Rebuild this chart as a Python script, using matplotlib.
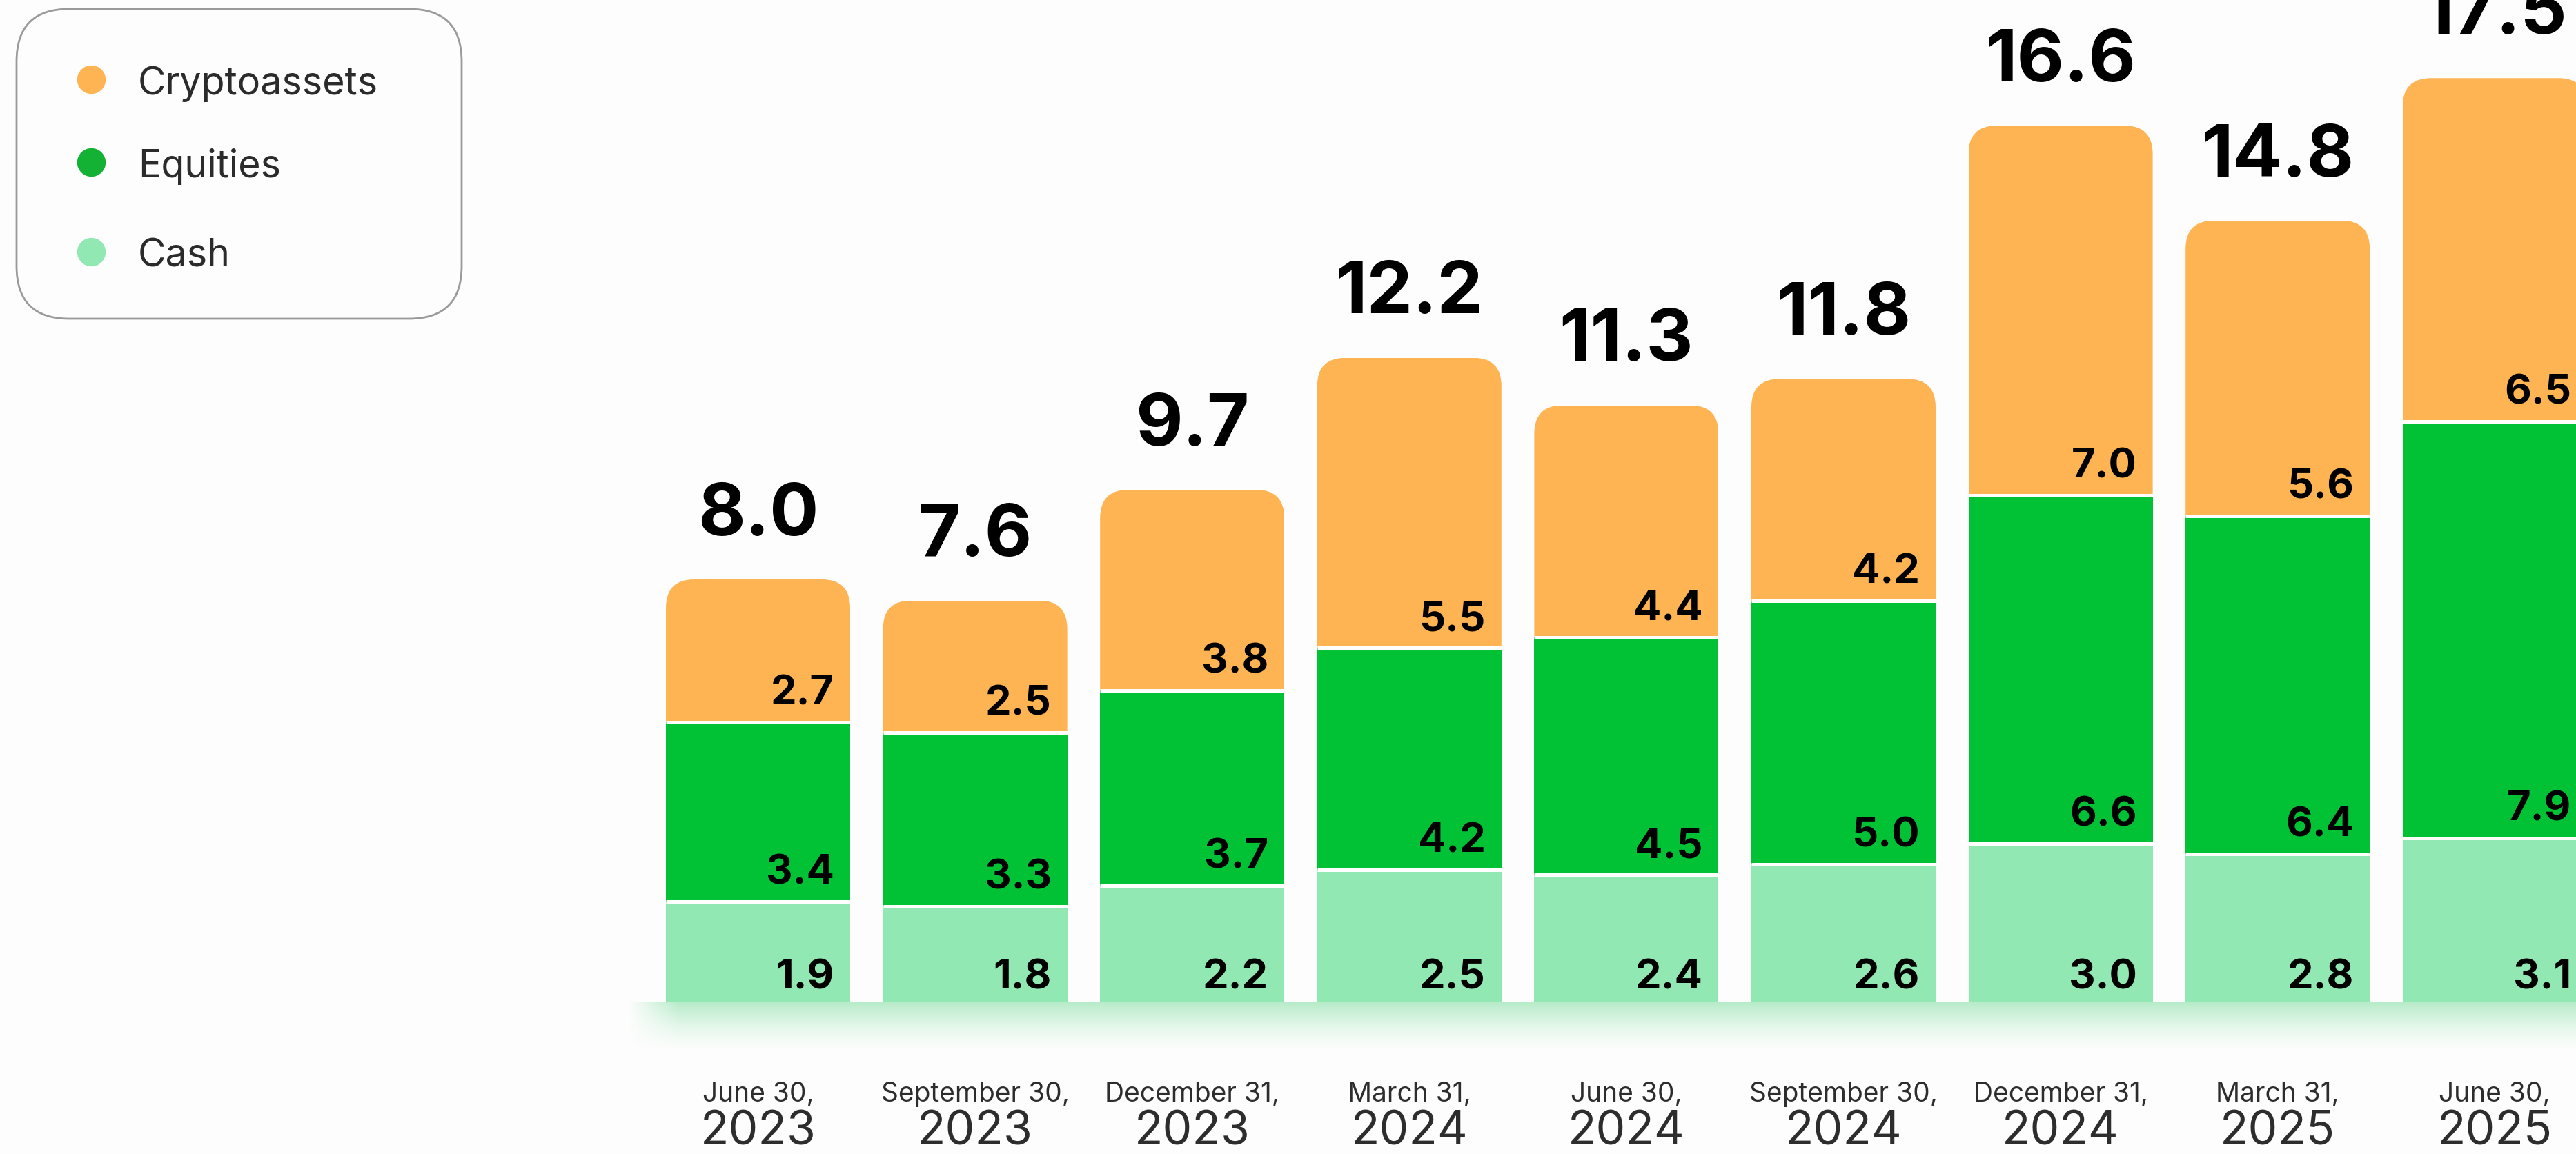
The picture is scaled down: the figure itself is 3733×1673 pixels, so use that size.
import numpy as np
import matplotlib.pyplot as plt
from matplotlib.patches import FancyBboxPatch
from matplotlib.lines import Line2D

plt.rcParams['font.family'] = ['Inter', 'DejaVu Sans']

# data (billions)
months = ['June 30,', 'September 30,', 'December 31,', 'March 31,', 'June 30,',
          'September 30,', 'December 31,', 'March 31,', 'June 30,']
years = ['2023', '2023', '2023', '2024', '2024', '2024', '2024', '2025', '2025']
cash = [1.9, 1.8, 2.2, 2.5, 2.4, 2.6, 3.0, 2.8, 3.1]
equities = [3.4, 3.3, 3.7, 4.2, 4.5, 5.0, 6.6, 6.4, 7.9]
crypto = [2.7, 2.5, 3.8, 5.5, 4.4, 4.2, 7.0, 5.6, 6.5]
totals = [8.0, 7.6, 9.7, 12.2, 11.3, 11.8, 16.6, 14.8, 17.5]

series = ['Cryptoassets', 'Equities', 'Cash']
colors = {'Cryptoassets': '#FFB453', 'Equities': '#00C234', 'Cash': '#92E8B2'}
legend_colors = {'Cryptoassets': '#FFB453', 'Equities': '#14B234', 'Cash': '#92E8B2'}
bg = '#FCFDFC'

# layout in pixels
W, H = 3733, 1674
pitch = 314.6      # px between bar centres
x_first = 1098.5   # px of first bar centre
base = 1453        # px from top of the baseline
ppu = 76.5         # px per unit
bar_px = 267
r_px = 41

fig = plt.figure(figsize=(W / 100, H / 100), dpi=100)
fig.patch.set_facecolor(bg)
ax = fig.add_axes([0, 0, 1, 1])
ax.set_facecolor(bg)
ax.axis('off')

xlim = (-x_first / pitch, (W - x_first) / pitch)
ylim = (-(H - base) / ppu, base / ppu)

x = np.arange(len(months))
w = bar_px / pitch
cash_a = np.array(cash)
eq_a = np.array(equities)
cr_a = np.array(crypto)

ax.bar(x, cash_a, w, color=colors['Cash'], zorder=2)
ax.bar(x, eq_a, w, bottom=cash_a, color=colors['Equities'], zorder=2)
top_bars = ax.bar(x, cr_a, w, bottom=cash_a + eq_a, color=colors['Cryptoassets'], zorder=2)

# rounded top corners
rx = r_px / pitch
ry = r_px / ppu
for rect in top_bars:
    clip = FancyBboxPatch((rect.get_x(), rect.get_y() - 1), rect.get_width(), rect.get_height() + 1,
                          boxstyle=f'round,pad=0,rounding_size={rx}', mutation_aspect=ry / rx,
                          transform=ax.transData)
    rect.set_clip_path(clip)

# white gaps between segments
ax.hlines(cash_a, x - w / 2, x + w / 2, color='white', lw=3.6, zorder=3)
ax.hlines(cash_a + eq_a, x - w / 2, x + w / 2, color='white', lw=3.6, zorder=3)

# soft green glow under the baseline
gh, gw = 80, 600
t = np.linspace(0, 1, gh)[:, None]
s = np.linspace(0, 1, gw)[None, :]
alpha = 0.75 * (1 - t) ** 1.5 * np.clip(s / 0.025, 0, 1)
rgba = np.zeros((gh, gw, 4))
rgba[..., 0], rgba[..., 1], rgba[..., 2] = 0.62, 0.90, 0.72
rgba[..., 3] = alpha
ax.imshow(rgba, extent=[-0.6, xlim[1], -72 / ppu, 0], aspect='auto', origin='upper', zorder=1)

# segment labels, totals and dates
for i in range(len(x)):
    bottoms = [0, cash[i], cash[i] + equities[i]]
    vals = [cash[i], equities[i], crypto[i]]
    offs = [14, 19, 19]
    for b, v, o in zip(bottoms, vals, offs):
        ax.annotate(f'{v:.1f}', xy=(x[i] + w / 2, b), xytext=(-16.5, o), textcoords='offset points',
                    ha='right', va='baseline', fontsize=43, fontweight='bold', color='#000000',
                    zorder=4, annotation_clip=False)
    ax.annotate(f'{totals[i]:.1f}', xy=(x[i], bottoms[2] + vals[2]), xytext=(0, 47),
                textcoords='offset points', ha='center', va='baseline', fontsize=76,
                fontweight='bold', color='#000000', zorder=4, annotation_clip=False)
    ax.annotate(months[i], xy=(x[i], 0), xytext=(0, -104), textcoords='offset points',
                ha='center', va='baseline', fontsize=28, color='#2d2d2d', annotation_clip=False)
    ax.annotate(years[i], xy=(x[i], 0), xytext=(0, -149), textcoords='offset points',
                ha='center', va='baseline', fontsize=49, color='#2d2d2d', annotation_clip=False)

ax.set_xlim(*xlim)
ax.set_ylim(*ylim)

# legend box
box = FancyBboxPatch((24 / W, 1 - 463 / H), (669 - 24) / W, (463 - 14) / H,
                     boxstyle=f'round,pad=0,rounding_size={76 / W}', mutation_aspect=W / H,
                     transform=fig.transFigure, fc='#FDFDFD', ec='#9A9A9A', lw=2)
fig.add_artist(box)
for name, cy in zip(series, [116, 236, 366]):
    fig.add_artist(Line2D([132 / W], [1 - cy / H], marker='o', ms=28.8, ls='none',
                          color=legend_colors[name], transform=fig.transFigure))
    fig.text(200 / W, 1 - cy / H, name, va='center_baseline', ha='left', fontsize=40, color='#2b2b2b')

fig.savefig('out.png', dpi=100, facecolor=bg)
